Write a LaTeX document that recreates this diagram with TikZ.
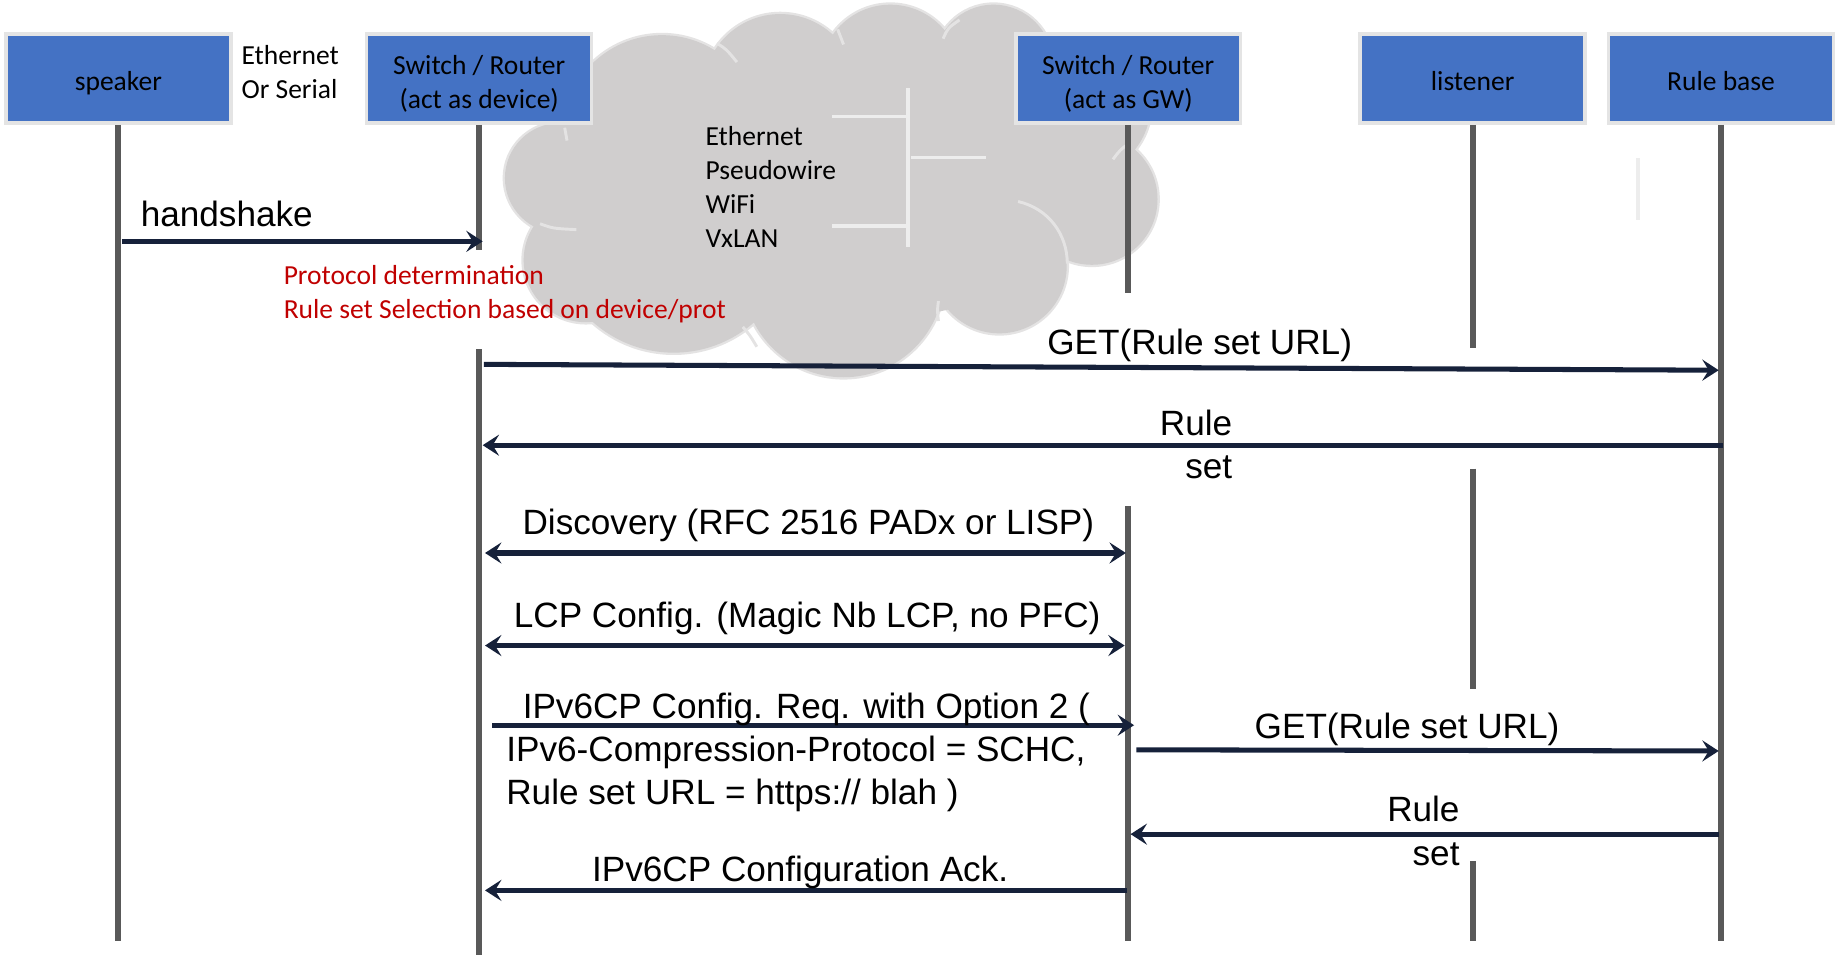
\documentclass[tikz,border=0pt]{standalone}
\usepackage{fontspec}
\setmainfont{Liberation Sans}
\newfontfamily\carl{Carlito}
\usetikzlibrary{arrows.meta}
\definecolor{boxblue}{HTML}{4472C4}
\definecolor{boxedge}{HTML}{E4E4E4}
\definecolor{lifegray}{HTML}{595959}
\definecolor{msgnavy}{HTML}{16213A}
\definecolor{cloudgray}{HTML}{D0CECE}
\definecolor{cloudedge}{HTML}{E4E3E3}
\definecolor{notered}{HTML}{C00000}
\definecolor{brkgray}{HTML}{EDEDED}
\newcommand\bxs{\rule[-6pt]{0pt}{32pt}}
\begin{document}
\begin{tikzpicture}[x=1pt,y=-1pt,
  box/.style={draw=boxedge, line width=3pt, fill=boxblue, minimum width=192pt, minimum height=76pt, inner sep=0pt, align=center, font=\carl\fontsize{23.5}{29}\selectfont},
  life/.style={draw=lifegray, line width=5pt},
  tipx/.tip={Stealth[length=14pt,width=18pt,inset=5.5pt]},
  msg/.style={draw=msgnavy, line width=4.3pt, -tipx},
  dmsg/.style={draw=msgnavy, line width=4.3pt, tipx-tipx},
  lbl/.style={font=\fontsize{30}{37}\selectfont, inner sep=0pt},
  small/.style={font=\carl\fontsize{23.5}{29}\selectfont, inner sep=0pt, align=left},
  brk/.style={draw=brkgray, line width=3pt},
  puffarc/.style={draw=cloudedge, line width=2.5pt},
]
\useasboundingbox (0,0) rectangle (1568,815);
% cloud: outlines of all puffs, then fill to hide inner outlines
\def\puffs{%
  (478,152) circle[radius=47]
  (500,222) circle[radius=53]
  (575,197) circle[radius=104]
  (720,236) circle[radius=86]
  (853,227) circle[radius=57.5]
  (932,170) circle[radius=56]
  (922,90) circle[radius=60]
  (848,54.5) circle[radius=50.5]
  (760,64) circle[radius=60]
  (666,78) circle[radius=66]
  (565,115) circle[radius=85]}
\draw[draw=cloudedge, line width=4pt, fill=cloudgray] \puffs;
\fill[cloudgray] \puffs;
\fill[cloudgray] (710,165) ellipse[x radius=230, y radius=110];
\draw[puffarc] (482,109) .. controls (483,114) .. (484,120);
\draw[puffarc] (461,191) .. controls (472,195) .. (492,196);
\draw[puffarc] (612,37) .. controls (620,42) .. (629,53);
\draw[puffarc] (715,25) .. controls (717,31) .. (720,38);
\draw[puffarc] (819,17) .. controls (809,24) .. (805,33);
\draw[puffarc] (950,136) .. controls (956,128) .. (964,122);
\draw[puffarc] (869,172) .. controls (895,178) and (911,200) .. (911,225);
\draw[puffarc] (801,257) .. controls (800,265) .. (801,274);
\draw[puffarc] (634,279) .. controls (640,286) .. (646,296);
\node[inner sep=0pt, minimum width=557pt, minimum height=317pt] (cloud) at (708.5,163.5) {};
% bracket inside the cloud
\draw[brk] (775,75) -- (775,211);
\draw[brk] (710,99.5) -- (775,99.5);
\draw[brk] (778,134.5) -- (842,134.5);
\draw[brk] (710,193) -- (775,193);
\node[small, anchor=north west] (cloudtxt) at (602,107.5) {Ethernet\\Pseudowire\\WiFi\\VxLAN};
% boxes
\node[box] (spk) at (101,67) {\bxs speaker};
\node[box] (dev) at (409,67) {\bxs Switch / Router\\(act as device)};
\node[box] (gw) at (963,67) {\bxs Switch / Router\\(act as GW)};
\node[box] (lis) at (1257,67) {\bxs listener};
\node[box] (rb) at (1469,67) {\bxs Rule base};
\node[small, anchor=north west] (eth) at (206,38.5) {Ethernet\\Or Serial};
% lifelines
\coordinate (spk-e) at (101,803);
\draw[life] (spk.south) -- (spk-e);
\coordinate (dev-a) at (409,213);
\coordinate (dev-b) at (409,298);
\coordinate (dev-c) at (409,815);
\draw[life] (dev.south) -- (dev-a);
\draw[life] (dev-b) -- (dev-c);
\coordinate (gw-a) at (963,250);
\coordinate (gw-b) at (963,432);
\coordinate (gw-c) at (963,803);
\draw[life] (gw.south) -- (gw-a);
\draw[life] (gw-b) -- (gw-c);
\coordinate (lis-a) at (1257,297);
\coordinate (lis-b) at (1257,400);
\coordinate (lis-c) at (1257,588);
\coordinate (lis-d) at (1257,735);
\coordinate (lis-e) at (1257,803);
\draw[life] (lis.south) -- (lis-a);
\draw[life] (lis-b) -- (lis-c);
\draw[life] (lis-d) -- (lis-e);
\coordinate (rb-e) at (1469,803);
\draw[life] (rb.south) -- (rb-e);
\draw[draw=brkgray, line width=3pt] (1398,135) -- (1398,188);
% notes
\node[small, anchor=north west, text=notered] (note) at (242,226.5) {Protocol determination\\Rule set Selection based on device/prot};
% messages
\coordinate (m1a) at (104,206); \coordinate (m1b) at (412,206);
\draw[msg] (m1a) -- (m1b);
\node[lbl, anchor=north west] (l1) at (120,171.5) {handshake};
\coordinate (m2a) at (413,311); \coordinate (m2b) at (1467,316);
\draw[msg] (m2a) -- (m2b);
\node[lbl, anchor=north] (l2) at (1024,280.5) {GET(Rule set URL)};
\coordinate (m3a) at (1471,380); \coordinate (m3b) at (412,380);
\draw[msg] (m3a) -- (m3b);
\node[lbl, anchor=north east, align=right] (l3) at (1052,349.5) {Rule\\set};
\coordinate (m4a) at (414,472); \coordinate (m4b) at (961,472);
\draw[dmsg] (m4a) -- (m4b);
\node[lbl, anchor=north] (l4) at (690,434.5) {Discovery (RFC 2516 PADx or LISP)};
\coordinate (m5a) at (414,551); \coordinate (m5b) at (960,551);
\draw[dmsg] (m5a) -- (m5b);
\node[lbl, anchor=north] (l5) at (689,513.5) {LCP Config. (Magic Nb LCP, no PFC)};
\coordinate (m6a) at (420,619); \coordinate (m6b) at (968,619);
\draw[msg] (m6a) -- (m6b);
\node[lbl, anchor=north west, align=left] (l6) at (432,591) {\hspace{14pt}IPv6CP Config. Req. with Option 2 (\\IPv6-Compression-Protocol = SCHC,\\Rule set URL = https:// blah )};
\coordinate (m7a) at (970,640); \coordinate (m7b) at (1467,641);
\draw[msg] (m7a) -- (m7b);
\node[lbl, anchor=north] (l7) at (1201,608.5) {GET(Rule set URL)};
\coordinate (m8a) at (1467,712); \coordinate (m8b) at (965,712);
\draw[msg] (m8a) -- (m8b);
\node[lbl, anchor=north east, align=right] (l8) at (1246,679.5) {Rule\\set};
\coordinate (m9a) at (962,760); \coordinate (m9b) at (414,760);
\draw[msg] (m9a) -- (m9b);
\node[lbl, anchor=north] (l9) at (683,730.5) {IPv6CP Configuration Ack.};
\end{tikzpicture}
\end{document}
